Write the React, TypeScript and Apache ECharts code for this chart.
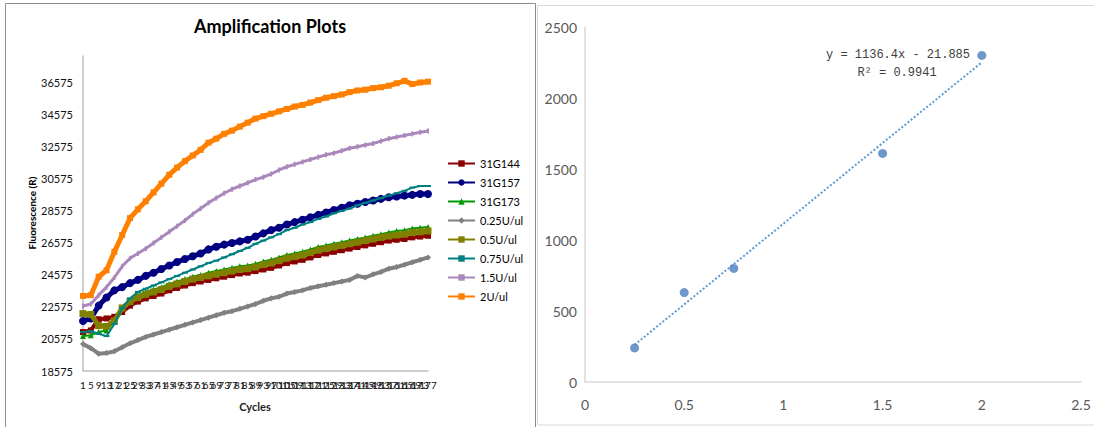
import React, { useEffect, useRef } from "react";
import * as echarts from "echarts";

// ---------- Left chart: Amplification Plots ----------
const cycles = [
  "1","5","9","13","17","21","25","29","33","37","41","45","49","53","57",
  "61","65","69","73","77","81","85","89","93","97","101","105","109","113","117",
  "121","125","129","133","137","141","145","149","153","157","161","165","169","173","177",
];
const yTicksMin = 18575;
const yTickStep = 2000;

const s31G144 = [21000,21100,21800,21850,21950,22250,22650,22900,23100,23250,23400,23600,23750,23900,24050,24150,24250,24350,24450,24550,24650,24700,24800,24900,25000,25150,25300,25400,25500,25650,25800,25900,26000,26100,26200,26300,26400,26500,26600,26700,26750,26800,26900,26950,27000];
const s31G157 = [21690,21850,22650,23150,23600,23800,24050,24250,24500,24700,24930,25150,25370,25550,25720,25900,26150,26320,26450,26550,26650,26750,26950,27150,27350,27500,27700,27850,28000,28150,28300,28450,28600,28750,28900,29000,29100,29200,29300,29400,29450,29500,29550,29600,29600];
const s31G173 = [20750,20800,21000,21100,21650,22500,23000,23300,23500,23650,23800,24000,24150,24300,24450,24550,24700,24800,24900,25000,25100,25150,25250,25400,25500,25650,25800,25900,26000,26150,26300,26400,26500,26600,26700,26800,26900,27000,27100,27200,27300,27350,27450,27500,27550];
const s025 = [20250,20000,19650,19700,19800,20050,20300,20500,20700,20850,21000,21150,21300,21450,21600,21750,21900,22050,22200,22300,22450,22600,22750,22950,23100,23200,23400,23500,23600,23750,23850,23950,24050,24150,24250,24500,24400,24600,24750,24950,25050,25200,25350,25500,25650];
const s05 = [22150,22100,21400,21350,21700,22500,22900,23150,23350,23500,23650,23850,24000,24150,24300,24400,24500,24600,24700,24800,24900,24950,25050,25200,25300,25450,25600,25700,25800,25950,26100,26200,26300,26400,26500,26600,26700,26800,26900,26980,27050,27100,27200,27250,27300];
const s075 = [21000,21050,20900,20750,21500,22500,23100,23500,23700,23900,24100,24300,24500,24700,24900,25100,25300,25450,25650,25850,26050,26250,26500,26700,26900,27100,27350,27500,27700,27850,28050,28200,28400,28550,28700,28900,29050,29200,29350,29500,29650,29800,30000,30100,30100];
const s15 = [22620,22750,23300,23800,24400,25100,25600,25900,26200,26550,26900,27250,27600,27950,28350,28700,29050,29350,29650,29900,30100,30300,30500,30650,30850,31100,31300,31450,31600,31750,31900,32050,32150,32300,32450,32550,32650,32750,32900,33050,33150,33250,33350,33450,33530];
const s2 = [23250,23300,24450,24850,26000,27050,28100,28650,29150,29700,30250,30800,31250,31650,32000,32350,32800,33050,33350,33550,33800,34050,34300,34450,34600,34750,34900,35050,35150,35300,35450,35600,35700,35800,35950,36050,36100,36200,36250,36350,36500,36650,36450,36550,36600];

const seriesNames = ["31G144","31G157","31G173","0.25U/ul","0.5U/ul","0.75U/ul","1.5U/ul","2U/ul"];
const seriesData = [s31G144, s31G157, s31G173, s025, s05, s075, s15, s2];

// ---------- Right chart: standard curve ----------
const concentrations = [0.25, 0.5, 0.75, 1.5, 2];
const signal = [240, 630, 800, 1610, 2300];
const trendSlope = 1136.4;
const trendIntercept = -21.885;
const rSquared = 0.9941;

const styles = [
  { color: "#8B0000", symbol: "rect", size: 6, width: 4 },
  { color: "#000080", symbol: "circle", size: 8, width: 5 },
  { color: "#009900", symbol: "triangle", size: 6, width: 2 },
  { color: "#808080", symbol: "diamond", size: 6, width: 4 },
  { color: "#808000", symbol: "rect", size: 7, width: 5 },
  { color: "#008080", symbol: "rect", size: [6, 2], width: 2 },
  { color: "#AA88BB", symbol: "rect", size: [2, 5], width: 3 },
  { color: "#FF8000", symbol: "rect", size: 6, width: 5 },
];

const FONT = "Lato, 'Liberation Sans', sans-serif";
const plain = (v: number) => String(v);

export default function App() {
  const ref = useRef<HTMLDivElement>(null);
  useEffect(() => {
    if (!ref.current) return;
    const chart = echarts.init(ref.current, undefined, { renderer: "svg" });
    const xMin = Math.min(...concentrations);
    const xMax = Math.max(...concentrations);
    const trend = [
      [xMin, trendSlope * xMin + trendIntercept],
      [xMax, trendSlope * xMax + trendIntercept],
    ];
    const lineSeries = seriesNames.map((name, i) => ({
      name,
      type: "line",
      xAxisIndex: 0,
      yAxisIndex: 0,
      data: seriesData[i],
      symbol: styles[i].symbol,
      symbolSize: styles[i].size,
      showAllSymbol: true,
      color: styles[i].color,
      lineStyle: { color: styles[i].color, width: styles[i].width },
      itemStyle: { color: styles[i].color },
      z: 2 + i,
    }));
    const option: any = {
      animation: false,
      textStyle: { fontFamily: FONT },
      grid: [
        { left: 83, top: 56, width: 345, height: 315, containLabel: false },
        { left: 585, top: 27, width: 496, height: 355, containLabel: false },
      ],
      legend: {
        data: seriesNames.map((n, i) => ({
          name: n,
          itemStyle: { color: styles[i].color },
          lineStyle: { width: 2, color: styles[i].color },
        })),
        orient: "vertical",
        left: 442,
        top: 153,
        itemWidth: 27,
        itemHeight: 8,
        itemGap: 8,
        textStyle: { fontSize: 11, color: "#000", fontFamily: FONT },
      },
      xAxis: [
        {
          type: "category",
          gridIndex: 0,
          data: cycles,
          boundaryGap: false,
          axisLine: { lineStyle: { color: "#bfbfbf", width: 1.5 } },
          axisTick: { show: false },
          axisLabel: { interval: 0, fontSize: 10, color: "#111", margin: 9, fontFamily: FONT },
          splitLine: { show: false },
        },
        {
          type: "value",
          gridIndex: 1,
          min: 0,
          max: 2.5,
          interval: 0.5,
          axisLine: { show: true, lineStyle: { color: "#d9d9d9", width: 1.5 } },
          axisTick: { show: false },
          axisLabel: { fontSize: 14, color: "#595959", margin: 15, fontFamily: FONT, formatter: plain },
          splitLine: { show: false },
        },
      ],
      yAxis: [
        {
          type: "value",
          gridIndex: 0,
          min: yTicksMin,
          max: 38200,
          interval: yTickStep,
          axisLine: { show: true, lineStyle: { color: "#bfbfbf", width: 1.5 } },
          axisTick: { show: false },
          axisLabel: { fontSize: 11, color: "#111", margin: 10, showMaxLabel: false, fontFamily: FONT, formatter: plain },
          splitLine: { show: false },
        },
        {
          type: "value",
          gridIndex: 1,
          min: 0,
          max: 2500,
          interval: 500,
          axisLine: { show: true, lineStyle: { color: "#d9d9d9", width: 1.5 } },
          axisTick: { show: false },
          axisLabel: { fontSize: 14, color: "#595959", margin: 8, fontFamily: FONT, formatter: plain },
          splitLine: { show: false },
        },
      ],
      graphic: [
        { type: "rect", shape: { x: 5.5, y: 3.5, width: 530, height: 440 }, style: { fill: "none", stroke: "#8c8c8c", lineWidth: 1 }, silent: true },
        { type: "rect", shape: { x: 537.5, y: 5.5, width: 570, height: 419.5 }, style: { fill: "none", stroke: "#d9d9d9", lineWidth: 1 }, silent: true },
        { type: "text", x: 270, y: 26, style: { text: "Amplification Plots", font: `bold 18px ${FONT}`, fill: "#000", align: "center", verticalAlign: "middle" } },
        { type: "text", x: 255, y: 406, style: { text: "Cycles", font: `bold 11px ${FONT}`, fill: "#222", align: "center", verticalAlign: "middle" } },
        { type: "text", x: 32, y: 213, rotation: Math.PI / 2, style: { text: "Fluorescence (R)", font: `bold 10px ${FONT}`, fill: "#000", align: "center", verticalAlign: "middle" } },
        { type: "text", x: 898, y: 55, style: { text: `y = ${trendSlope}x - ${Math.abs(trendIntercept)}`, font: `12px 'Liberation Mono', monospace`, fill: "#404040", align: "center", verticalAlign: "middle" } },
        { type: "text", x: 897, y: 73, style: { text: `R² = ${rSquared}`, font: `12px 'Liberation Mono', monospace`, fill: "#404040", align: "center", verticalAlign: "middle" } },
      ],
      series: [
        ...lineSeries,
        {
          name: "trend",
          type: "line",
          xAxisIndex: 1,
          yAxisIndex: 1,
          data: trend,
          symbol: "none",
          lineStyle: { color: "#5B9BD5", width: 2, type: "dotted" },
          z: 2,
        },
        {
          name: "points",
          type: "scatter",
          xAxisIndex: 1,
          yAxisIndex: 1,
          data: concentrations.map((c, i) => [c, signal[i]]),
          symbolSize: 9,
          itemStyle: { color: "#4A7EBB" },
          z: 3,
        },
      ],
    };
    chart.setOption(option);
    return () => chart.dispose();
  }, []);
  return (
    <div
      ref={ref}
      style={{ position: "absolute", left: 0, top: 0, width: 1094, height: 427, background: "#fff" }}
    />
  );
}
